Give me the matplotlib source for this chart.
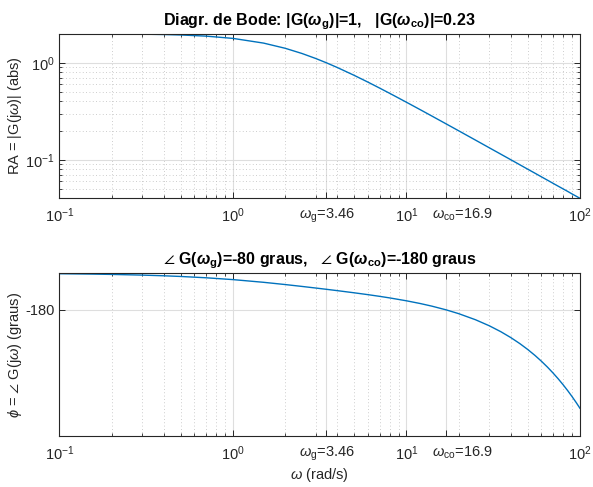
import matplotlib
matplotlib.use("Agg")
import matplotlib.pyplot as plt
from matplotlib.ticker import FixedLocator, NullFormatter, LogLocator
from matplotlib.transforms import ScaledTranslation

# ---- data ----
omega = [0.1, 0.15, 0.2, 0.3, 0.4, 0.5, 0.7, 1, 1.5, 2, 2.5, 3, 3.46, 4, 5, 6, 7, 8,
         10, 12, 14, 16.9, 20, 25, 30, 35, 40, 45, 50, 55, 60, 65, 70, 75, 80, 85, 90, 95, 100]
magnitude = [1.9975, 1.9944, 1.9901, 1.9779, 1.9612, 1.9403, 1.8877, 1.7889, 1.6, 1.4142,
             1.2494, 1.1094, 1.0009, 0.8944, 0.7428, 0.6325, 0.5494, 0.4851, 0.3922, 0.3288,
             0.2828, 0.2350, 0.1990, 0.1595, 0.1330, 0.1141, 0.0999, 0.0888, 0.0799, 0.0727,
             0.0666, 0.0615, 0.0571, 0.0533, 0.0500, 0.0471, 0.0444, 0.0421, 0.0400]
phase_deg = [-3.43, -5.15, -6.86, -10.25, -13.60, -16.90, -23.30, -32.29, -45.46, -56.46,
             -65.66, -73.50, -79.80, -86.35, -96.85, -105.94, -114.16, -121.80, -135.99,
             -149.29, -162.08, -180.08, -198.88, -228.67, -258.07, -287.26, -316.32, -345.29,
             -374.19, -403.04, -431.87, -460.66, -489.44, -518.19, -546.93, -575.67, -604.39,
             -633.10, -661.81]

xtick_vals = [0.1, 1, 3.46, 10, 16.9, 100]
xtick_labels = [r'$10^{-1}$', r'$10^{0}$', r'$\omega_{\rm g}$=3.46', r'$10^{1}$',
                r'$\omega_{\rm co}$=16.9', r'$10^{2}$']
mag_yticks = [0.1, 1]
mag_yticklabels = [r'$10^{-1}$', r'$10^{0}$']
phase_yticks = [-180]
phase_yticklabels = ['-180']

title_top = r'Diagr. de Bode: |G($\boldsymbol{\omega}_{\mathbf{g}}$)|=1,   |G($\boldsymbol{\omega}_{\mathbf{co}}$)|=0.23'
title_bot = r'$\angle$ G($\boldsymbol{\omega}_{\mathbf{g}}$)=-80 graus,   $\angle$ G($\boldsymbol{\omega}_{\mathbf{co}}$)=-180 graus'

# ---- style ----
plt.rcParams['font.family'] = ['Liberation Sans', 'DejaVu Sans']
plt.rcParams['mathtext.fontset'] = 'custom'
plt.rcParams['mathtext.rm'] = 'Liberation Sans'
plt.rcParams['mathtext.it'] = 'Liberation Sans:italic'
plt.rcParams['mathtext.bf'] = 'Liberation Sans:bold'
plt.rcParams['mathtext.bfit'] = 'Liberation Sans:bold:italic'
plt.rcParams['mathtext.fallback'] = 'stixsans'

line_color = '#0072BD'
axis_color = '#262626'
major_grid = dict(color='#dedede', linestyle='-', linewidth=0.8)
minor_grid = dict(color='#bdbdbd', linestyle=(0, (1, 3)), linewidth=0.6)

fig = plt.figure(figsize=(5.93, 4.87), dpi=100)
ax1 = fig.add_axes([0.1003, 0.5928, 0.8777, 0.338])
ax2 = fig.add_axes([0.1003, 0.1037, 0.8777, 0.3357])

minor_x = [m * 10.0 ** e for e in (-1, 0, 1) for m in range(2, 10)]


def style_axes(ax):
    ax.set_xscale('log')
    ax.set_xlim(0.1, 100)
    ax.xaxis.set_major_locator(FixedLocator(xtick_vals))
    ax.set_xticklabels(xtick_labels)
    ax.xaxis.set_minor_locator(FixedLocator(minor_x))
    ax.xaxis.set_minor_formatter(NullFormatter())
    for s in ax.spines.values():
        s.set_color(axis_color)
        s.set_linewidth(0.8)
    ax.tick_params(which='both', direction='in', top=True, right=True,
                   colors=axis_color, labelsize=10.5)
    ax.tick_params(which='major', length=4, width=0.7)
    ax.tick_params(which='minor', length=2.5, width=0.6)
    ax.tick_params(axis='x', pad=6)
    ax.set_axisbelow(True)
    # the omega_co label sits a bit to the right of its tick in the reference
    lbl = ax.get_xticklabels()[4]
    lbl.set_transform(lbl.get_transform() + ScaledTranslation(0.16, 0, fig.dpi_scale_trans))


# magnitude
ax1.plot(omega, magnitude, color=line_color, linewidth=1.0)
style_axes(ax1)
ax1.set_yscale('log')
ax1.set_ylim(0.04, 2.0)
ax1.yaxis.set_major_locator(FixedLocator(mag_yticks))
ax1.set_yticklabels(mag_yticklabels)
ax1.yaxis.set_minor_locator(LogLocator(base=10, subs=range(2, 10)))
ax1.yaxis.set_minor_formatter(NullFormatter())
ax1.grid(True, which='major', axis='both', **major_grid)
ax1.grid(True, which='minor', axis='both', **minor_grid)
ax1.set_ylabel(r'RA = |G(j$\omega$)| (abs)', fontsize=10.5, color=axis_color)
ax1.yaxis.set_label_coords(-0.068, 0.5)
ax1.set_title(title_top, fontsize=11.5, fontweight='bold', color='black', pad=6)

# phase
ax2.plot(omega, phase_deg, color=line_color, linewidth=1.0)
style_axes(ax2)
ax2.set_ylim(-800, 0)
ax2.yaxis.set_major_locator(FixedLocator(phase_yticks))
ax2.set_yticklabels(phase_yticklabels)
ax2.grid(True, which='major', axis='both', **major_grid)
ax2.grid(True, which='minor', axis='x', **minor_grid)
ax2.set_ylabel(r'$\phi$ = $\angle$ G(j$\omega$) (graus)', fontsize=10.5, color=axis_color)
ax2.yaxis.set_label_coords(-0.068, 0.5)
ax2.set_xlabel(r'$\omega$ (rad/s)', fontsize=10.5, color=axis_color, labelpad=2)
ax2.set_title(title_bot, fontsize=11.5, fontweight='bold', color='black', pad=6)

fig.savefig('out.png', dpi=100)
